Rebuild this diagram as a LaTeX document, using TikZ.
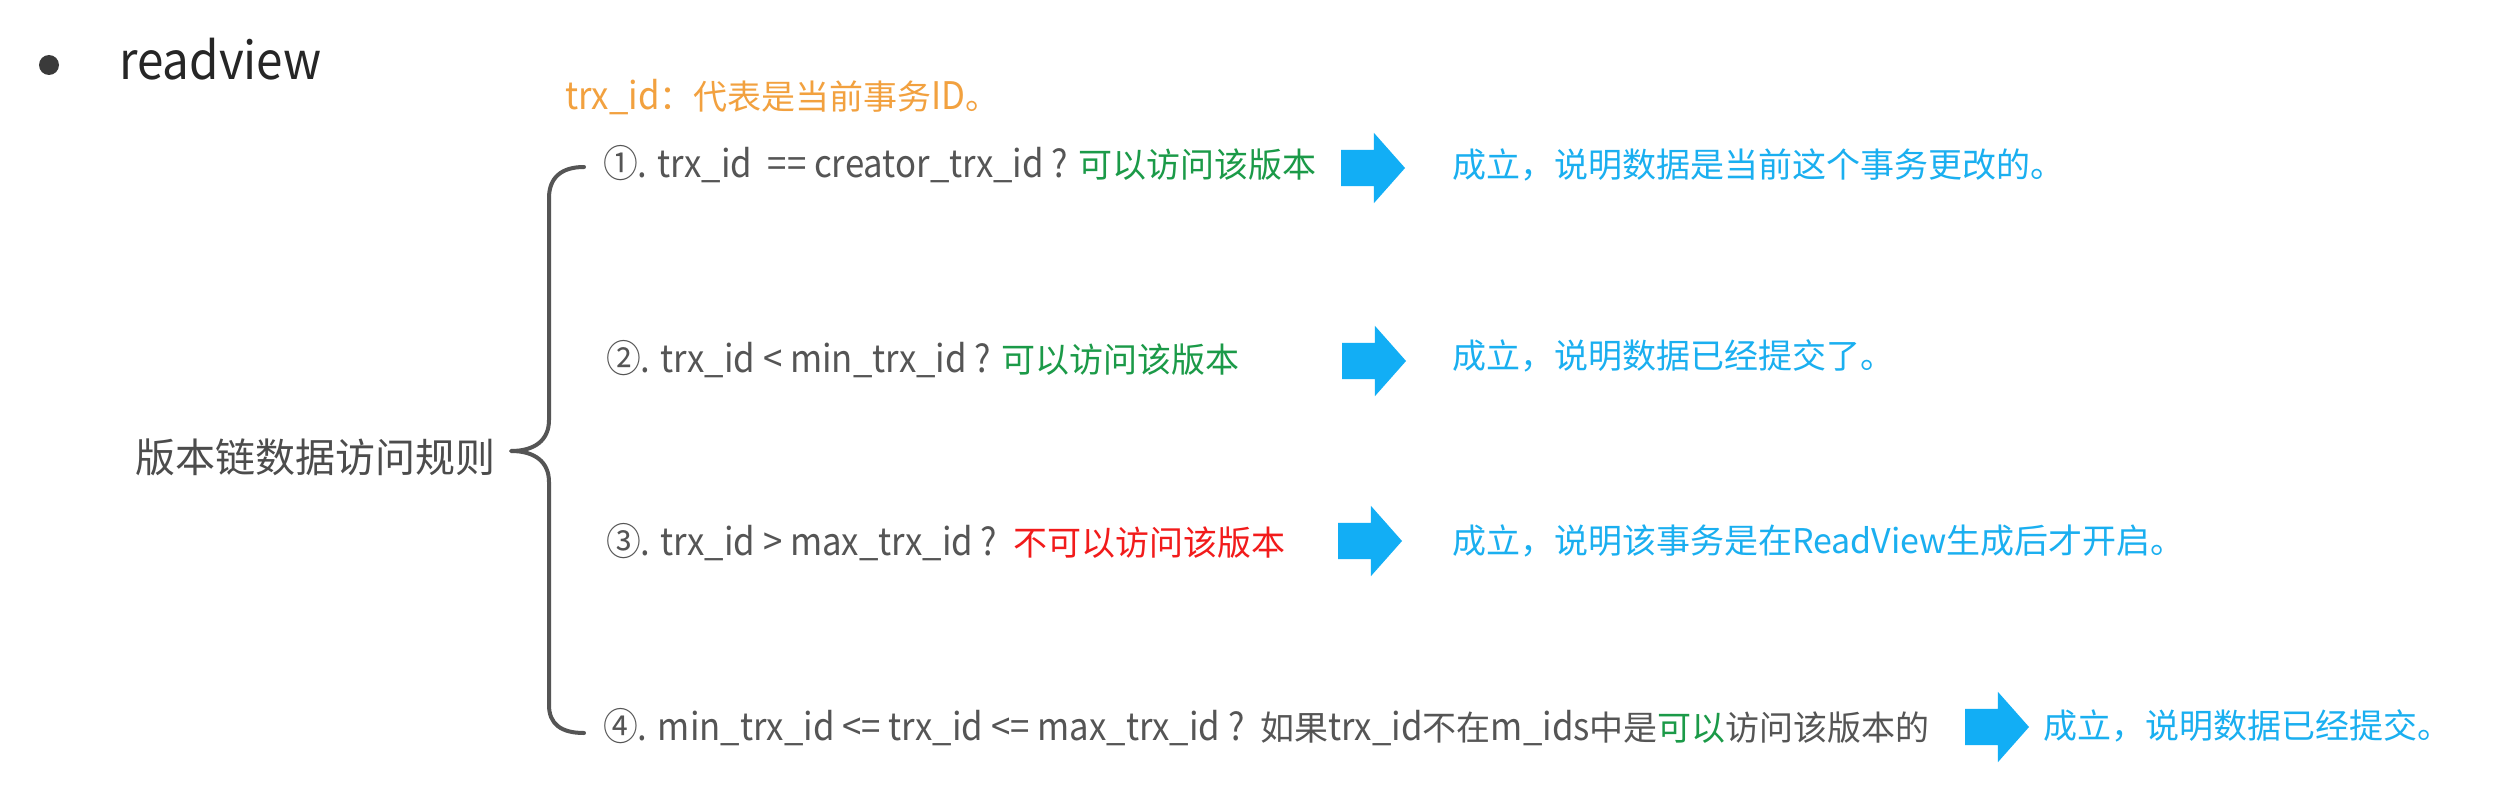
\documentclass[tikz,border=0pt]{standalone}
\usepackage{fontspec}
\setmainfont{Noto Sans CJK SC}
\newfontfamily\latfont[FakeStretch=0.915]{Noto Sans CJK SC}
\usetikzlibrary{shapes.arrows}
\definecolor{txtgray}{HTML}{555555}
\definecolor{darkgray}{HTML}{3A3A3A}
\definecolor{okgreen}{HTML}{1B9A48}
\definecolor{nored}{HTML}{F21B1B}
\definecolor{resblue}{HTML}{1AAFF0}
\definecolor{arrowblue}{HTML}{12AEF5}
\definecolor{noteorange}{HTML}{F2A13F}
\definecolor{bracecol}{HTML}{555555}
\newcommand\lat[1]{{\latfont\fontsize{38}{44}\selectfont #1}}
\begin{document}
\begin{tikzpicture}[x=1pt,y=-1pt,
  rule/.style={anchor=base west, inner sep=0pt, outer sep=0pt, text=txtgray, font=\fontsize{34}{40}\selectfont},
  result/.style={anchor=base west, inner sep=0pt, outer sep=0pt, text=resblue, font=\fontsize{34}{40}\selectfont},
  blockarrow/.style={single arrow, fill=arrowblue, draw=none, minimum height=64pt, minimum width=70pt,
    inner sep=0pt, inner ysep=18pt, single arrow head extend=17pt, single arrow tip angle=97,
    anchor=tail, outer sep=0pt},
  bracestyle/.style={draw=bracecol, line width=4pt, line cap=round, line join=round}]
\useasboundingbox (0,0) rectangle (2496,789);
\fill[white] (0,0) rectangle (2496,789);

% title
\node[circle, fill=darkgray, minimum size=20pt, inner sep=0pt] (bullet) at (49,65) {};
\node[anchor=base west, inner sep=0pt, text=black!85, font=\latfont\fontsize{52}{60}\selectfont] (title) at (119,80) {readview};

% note
\node[anchor=base west, inner sep=0pt, text=noteorange, font=\fontsize{34}{40}\selectfont] (note) at (565,110)
  {\lat{trx\_id}：代表是当前事务\lat{ID}。};

% left label
\node[inner sep=0pt, text=txtgray!90!black, font=\fontsize{40}{46}\selectfont] (label) at (315,457) {版本链数据访问规则};

% brace
\coordinate (btop) at (584,167);
\coordinate (btip) at (511,451);
\coordinate (bbot) at (584,733);
\draw[bracestyle] (btop) .. controls (561,167) and (549,178) .. (549,198) -- (549,420)
  .. controls (549,440) and (535,451) .. (btip)
  .. controls (535,451) and (549,462) .. (549,482) -- (549,705)
  .. controls (549,724) and (561,733) .. (bbot);

% rules
\node[rule] (r1) at (603,177) {\lat{①. trx\_id\ \ == creator\_trx\_id ?} \textcolor{okgreen}{可以访问该版本}};
\node[rule] (r2) at (606,372) {\lat{②. trx\_id < min\_trx\_id ?} \textcolor{okgreen}{可以访问该版本}};
\node[rule] (r3) at (606,555) {\lat{③. trx\_id > max\_trx\_id ?\ \ }\textcolor{nored}{不可以访问该版本}};
\node[rule] (r4) at (603,740) {\lat{④. min\_trx\_id <= trx\_id <= max\_trx\_id ?\ \ }如果\lat{trx\_id}不在\lat{m\_ids}中是\textcolor{okgreen}{可以}访问该版本的};

% arrows
\node[blockarrow] (a1) at (1341,168) {};
\node[blockarrow] (a2) at (1342,361) {};
\node[blockarrow] (a3) at (1338,541) {};
\node[blockarrow] (a4) at (1965,727) {};

% results
\node[result] (s1) at (1452,177) {成立，说明数据是当前这个事务更改的。};
\node[result] (s2) at (1452,368) {成立，说明数据已经提交了。};
\node[result] (s3) at (1452,553) {成立，说明该事务是在ReadView生成后才开启。};
\node[result] (s4) at (2043,738) {成立，说明数据已经提交。};
\end{tikzpicture}
\end{document}
